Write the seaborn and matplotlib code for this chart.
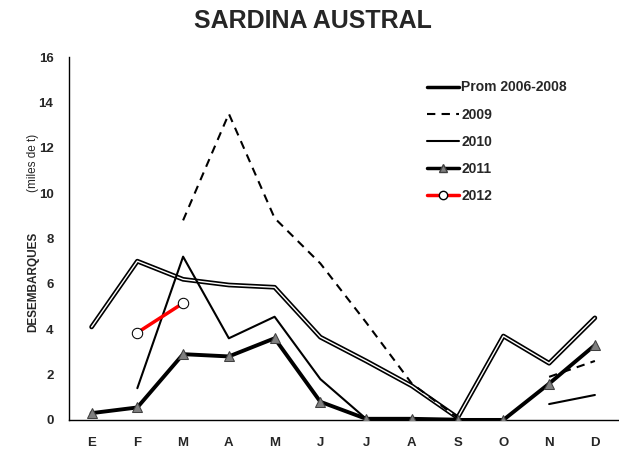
import numpy as np
import pandas as pd
import matplotlib
matplotlib.use("Agg")
import matplotlib.pyplot as plt
import matplotlib.patheffects as pe
from matplotlib.lines import Line2D
import seaborn as sns

MESES = ["E", "F", "M", "A", "M", "J", "J", "A", "S", "O", "N", "D"]

prom_2006_2008 = [4.1, 7.0, 6.2, 5.95, 5.85, 3.65, 2.6, 1.5, 0.1, 3.7, 2.5, 4.5]
y2009 = [np.nan, np.nan, 8.8, 13.5, 8.9, 6.9, 4.3, 1.6, 0.1, np.nan, 1.9, 2.6]
y2010 = [np.nan, 1.4, 7.2, 3.6, 4.55, 1.8, 0.05, 0.05, 0.05, np.nan, 0.7, 1.1]
y2011 = [0.3, 0.55, 2.9, 2.8, 3.6, 0.8, 0.05, 0.05, 0.0, 0.0, 1.6, 3.3]
y2012 = [np.nan, 3.85, 5.15, np.nan, np.nan, np.nan, np.nan, np.nan, np.nan, np.nan, np.nan, np.nan]

FUENTE = ["Liberation Sans", "DejaVu Sans"]


def tramos(valores):
    # tabla larga con un id por tramo continuo (los NaN cortan la linea)
    s = pd.Series(valores, dtype=float)
    seg = s.isna().cumsum()
    df = pd.DataFrame({"x": np.arange(len(s)), "y": s, "seg": seg})
    return df.dropna()


sns.set_style("white")
plt.rcParams["font.family"] = FUENTE

fig = plt.figure(figsize=(6.19, 4.53), dpi=100)
ax = fig.add_axes([0.111, 0.073, 0.887, 0.801])

# promedio: linea doble (negra con centro blanco)
sns.lineplot(data=tramos(prom_2006_2008), x="x", y="y", units="seg", estimator=None,
             color="white", lw=1.0, ax=ax, zorder=3,
             path_effects=[pe.Stroke(linewidth=3.4, foreground="black"), pe.Normal()])
n0 = len(ax.lines)
sns.lineplot(data=tramos(y2009), x="x", y="y", units="seg", estimator=None,
             color="black", lw=1.5, ax=ax, zorder=3)
for ln in ax.lines[n0:]:
    ln.set_dashes((4, 3))
sns.lineplot(data=tramos(y2010), x="x", y="y", units="seg", estimator=None,
             color="black", lw=1.5, ax=ax, zorder=3)
sns.lineplot(data=tramos(y2011), x="x", y="y", units="seg", estimator=None,
             color="black", lw=2.8, marker="^", markersize=7.5,
             markerfacecolor="#7f7f7f", markeredgecolor="#404040", ax=ax, zorder=4)
sns.lineplot(data=tramos(y2012), x="x", y="y", units="seg", estimator=None,
             color="#ff0000", lw=2.5, marker="o", markersize=7.5,
             markerfacecolor="white", markeredgecolor="black", ax=ax, zorder=5)

ax.set_xlim(-0.5, 11.5)
ax.set_ylim(0, 16)
ax.set_yticks(range(0, 17, 2))
ax.set_xticks(range(12))
ax.set_xticklabels(MESES)
ax.set_xticks(np.arange(-0.5, 11.6, 1), minor=True)
ax.tick_params(axis="x", which="major", length=0, pad=12.5)
ax.tick_params(axis="x", which="minor", length=4, width=0.8, color="black", direction="out")
ax.tick_params(axis="y", length=5, width=0.8, color="black", direction="out", pad=6)
for lab in ax.get_xticklabels() + ax.get_yticklabels():
    lab.set_fontweight("bold")
    lab.set_fontsize(9.5)
ax.set_xlabel("")
ax.set_ylabel("")
sns.despine(ax=ax)
for sp in ["left", "bottom"]:
    ax.spines[sp].set_color("black")
    ax.spines[sp].set_linewidth(1.0)

fig.text(0.505, 0.953, "SARDINA AUSTRAL", ha="center", va="center", fontsize=18,
         fontweight="bold", family=["Liberation Sans Narrow", "Liberation Sans", "DejaVu Sans"])
fig.text(0.054, 0.377, "DESEMBARQUES", rotation=90, ha="center", va="center",
         fontsize=8.5, fontweight="bold")
fig.text(0.054, 0.64, "(miles de t)", rotation=90, ha="center", va="center", fontsize=8.5)

handles = [
    Line2D([], [], color="black", lw=2.5),
    Line2D([], [], color="black", lw=1.5, dashes=(4, 3)),
    Line2D([], [], color="black", lw=1.5),
    Line2D([], [], color="black", lw=2.5, marker="^", markersize=6,
           markerfacecolor="#7f7f7f", markeredgecolor="#404040"),
    Line2D([], [], color="#ff0000", lw=2.5, marker="o", markersize=6,
           markerfacecolor="white", markeredgecolor="black"),
]
labels = ["Prom 2006-2008", "2009", "2010", "2011", "2012"]
leg = ax.legend(handles, labels, loc="upper left", bbox_to_anchor=(0.629, 0.97),
                frameon=False, handlelength=2.3, handletextpad=0.2, labelspacing=0.95,
                prop={"weight": "bold", "size": 10})

fig.savefig("out.png", dpi=100)
